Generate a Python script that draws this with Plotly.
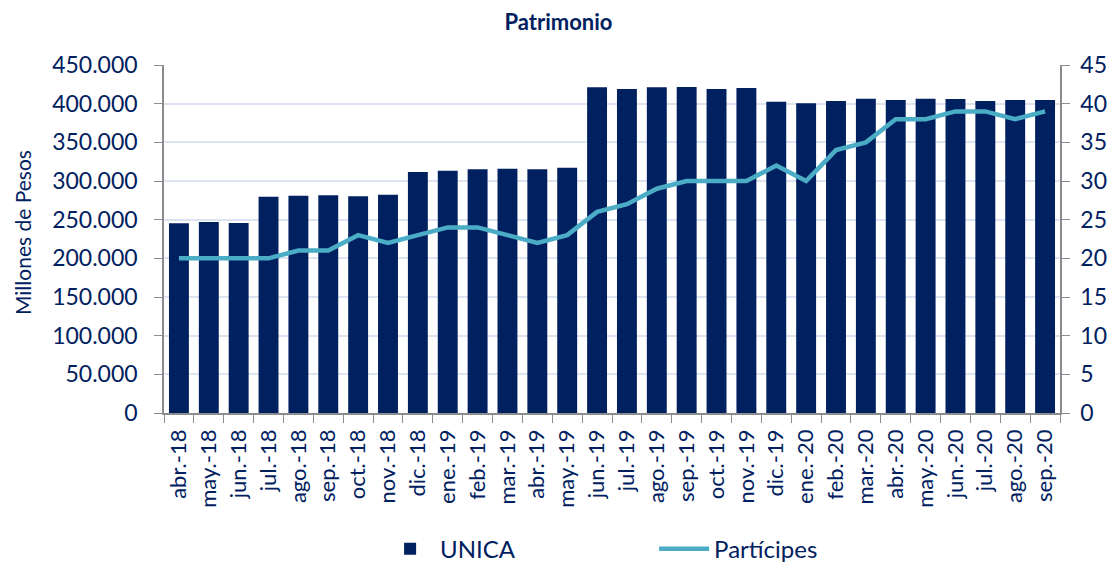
import plotly.graph_objects as go

months = ["abr.-18", "may.-18", "jun.-18", "jul.-18", "ago.-18", "sep.-18", "oct.-18", "nov.-18",
          "dic.-18", "ene.-19", "feb.-19", "mar.-19", "abr.-19", "may.-19", "jun.-19", "jul.-19",
          "ago.-19", "sep.-19", "oct.-19", "nov.-19", "dic.-19", "ene.-20", "feb.-20", "mar.-20",
          "abr.-20", "may.-20", "jun.-20", "jul.-20", "ago.-20", "sep.-20"]

unica = [245300, 247000, 245700, 279700, 281000, 281500, 280200, 282300,
         311600, 313300, 315100, 315900, 315100, 317200, 421100, 419000,
         421100, 421600, 419000, 420300, 402600, 400400, 403400, 406400,
         404700, 406400, 406000, 403400, 404700, 404700]

participes = [20, 20, 20, 20, 21, 21, 23, 22, 23, 24, 24, 23, 22, 23, 26, 27,
              29, 30, 30, 30, 32, 30, 34, 35, 38, 38, 39, 39, 38, 39]

NAVY = "#002060"
TEAL = "#4BACC6"
FONT = "Lato"
AXIS = "#8c8c8c"

fig = go.Figure()
fig.add_trace(go.Bar(x=months, y=unica, name="UNICA", marker_color=NAVY,
                     marker_line_width=0, yaxis="y"))
fig.add_trace(go.Scatter(x=months, y=participes, name="Partícipes", mode="lines",
                         line=dict(color=TEAL, width=4.5, shape="linear"), yaxis="y2"))

fig.update_layout(
    width=1101, height=555,
    paper_bgcolor="white", plot_bgcolor="white",
    margin=dict(l=156, r=49, t=57, b=150, autoexpand=False),
    separators=",.",
    font=dict(family=FONT, color=NAVY, size=22),
    title=dict(text="<b>Patrimonio</b>", x=0.5, xanchor="center", y=0.9748, yanchor="middle",
               font=dict(size=22, color=NAVY, family=FONT)),
    bargap=1/3,
    showlegend=True,
    legend=dict(orientation="h", x=0.547, xanchor="center", y=-0.391, yanchor="middle",
                entrywidth=209, entrywidthmode="pixels",
                font=dict(size=24, color=NAVY, family=FONT), itemwidth=50),
    xaxis=dict(tickangle=-90, showline=True, linecolor=AXIS, linewidth=1.5,
               ticks="outside", ticklen=8, tickcolor=AXIS, tickson="boundaries",
               ticklabelstandoff=6,
               tickfont=dict(size=22, color=NAVY), showgrid=False, automargin=False),
    yaxis=dict(range=[0, 450000], dtick=50000, tickformat=",d", showline=True,
               linecolor=AXIS, linewidth=1.5, ticks="outside", ticklen=8,
               tickcolor=AXIS, gridcolor="#DCE4F2", gridwidth=1.5,
               ticklabelstandoff=12,
               tickfont=dict(size=23, color=NAVY), automargin=False,
               zeroline=False),
    yaxis2=dict(range=[0, 45], dtick=5, overlaying="y", side="right", showline=True,
                linecolor=AXIS, linewidth=1.5, ticks="outside", ticklen=8,
                ticklabelstandoff=6,
                tickcolor=AXIS, showgrid=False, zeroline=False, automargin=False,
                tickfont=dict(size=23, color=NAVY)),
    annotations=[dict(text="Millones de Pesos", xref="paper", yref="paper",
                      x=-0.1585, y=0.52, xanchor="center", yanchor="middle",
                      textangle=-90, showarrow=False,
                      font=dict(size=21, color=NAVY, family=FONT))],
)

fig.write_html("out.html")
